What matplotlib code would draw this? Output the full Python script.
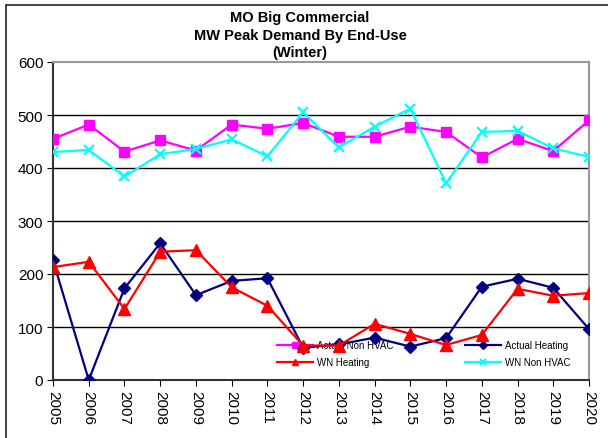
import matplotlib
matplotlib.use("Agg")
import matplotlib.pyplot as plt
from matplotlib.patches import Rectangle

plt.rcParams['font.family'] = ['Liberation Sans', 'DejaVu Sans']

years = list(range(2005, 2021))
actual_non_hvac = [455, 482, 431, 452, 433, 482, 474, 485, 459, 459, 478, 468, 420, 455, 432, 490]
actual_heating = [226, 0, 173, 258, 160, 187, 192, 61, 67, 80, 63, 79, 176, 191, 174, 96]
wn_heating = [213, 223, 134, 242, 245, 175, 140, 65, 65, 106, 87, 66, 85, 172, 159, 164]
wn_non_hvac = [430, 434, 384, 426, 436, 454, 422, 505, 439, 478, 512, 371, 468, 470, 437, 421]
title = "MO Big Commercial\nMW Peak Demand By End-Use\n(Winter)"

W, H = 608, 439
fig = plt.figure(figsize=(W / 100, H / 100), dpi=100)
# outer chart border (clipped at right/bottom as in reference)
fig.patches.append(Rectangle((6 / W, -0.1), 1.2, 1 - 6 / H + 0.1, transform=fig.transFigure,
                             fill=False, edgecolor='#222222', linewidth=1.2))

left, right, top, bottom = 53, 589, 63, 381
ax = fig.add_axes([left / W, 1 - bottom / H, (right - left) / W, (bottom - top) / H])

ax.plot(years, actual_non_hvac, color='#FF00FF', marker='s', markersize=7, linewidth=1.6,
        label='Actual Non HVAC', zorder=3)
ax.plot(years, actual_heating, color='#000080', marker='D', markersize=6.5, linewidth=1.6,
        label='Actual Heating', zorder=4)
ax.plot(years, wn_heating, color='#FF0000', marker='^', markersize=8, linewidth=1.6,
        label='WN Heating', zorder=5)
ax.plot(years, wn_non_hvac, color='#00FFFF', marker='x', markersize=7, markeredgewidth=1.6,
        linewidth=1.6, label='WN Non HVAC', zorder=6)

ax.set_xlim(2005, 2020)
ax.set_ylim(0, 600)
ax.set_yticks(range(0, 601, 100))
ax.set_xticks(years)
ax.set_xticklabels([str(y) for y in years], rotation=-90, fontsize=11)
ax.tick_params(axis='y', labelsize=11, direction='out', length=4, pad=3)
ax.tick_params(axis='x', direction='out', length=4, pad=3)
for yv in range(100, 600, 100):
    ax.axhline(yv, color='black', linewidth=1.0, zorder=1)

ax.spines['top'].set_color('#999999')
ax.spines['right'].set_color('#999999')
ax.spines['top'].set_linewidth(1.5)
ax.spines['right'].set_linewidth(1.5)
ax.spines['left'].set_color('#333333')
ax.spines['bottom'].set_color('#333333')
ax.spines['left'].set_linewidth(1.5)
ax.spines['bottom'].set_linewidth(1.5)

fig.text(300 / W, 1 - 11 / H, title, ha='center', va='top', fontsize=10.5,
         fontweight='bold', linespacing=1.32)

h, l = ax.get_legend_handles_labels()
order = [0, 2, 1, 3]
leg = ax.legend([h[i] for i in order], [l[i] for i in order], ncol=2, frameon=False,
                fontsize=7, loc='upper left',
                bbox_to_anchor=(277 / W, 1 - 341 / H), bbox_transform=fig.transFigure,
                handlelength=3.7, handletextpad=0.4, columnspacing=7.4,
                labelspacing=0.75, markerscale=0.6, borderpad=0, borderaxespad=0)
leg.set_zorder(2)

fig.savefig('out.png', dpi=100)
